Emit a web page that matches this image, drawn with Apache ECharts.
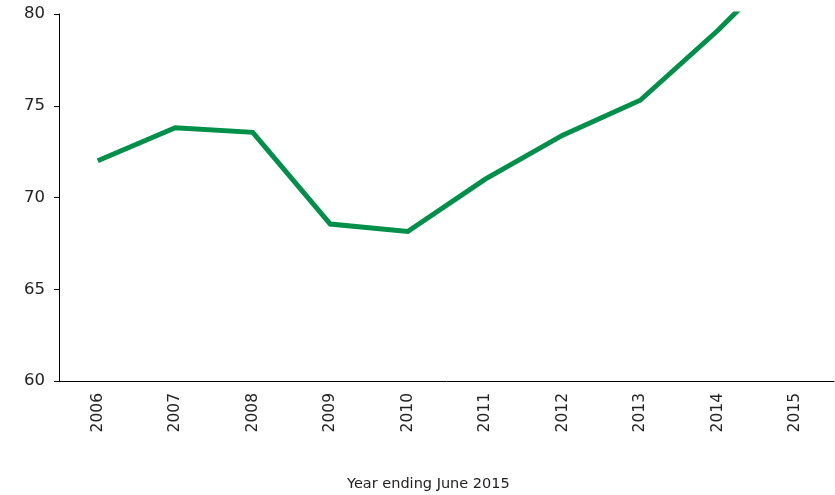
<!DOCTYPE html>
<html>
<head>
<meta charset="utf-8">
<script src="https://cdn.jsdelivr.net/npm/echarts@6/dist/echarts.min.js"></script>
<style>html,body{margin:0;padding:0;background:#fff}#c{width:835px;height:495px}</style>
</head>
<body>
<div id="c"></div>
<script>
const categories = ['2006','2007','2008','2009','2010','2011','2012','2013','2014','2015'];
const values = [72.0, 73.8, 73.55, 68.55, 68.15, 71.0, 73.4, 75.3, 79.1, 83.3];
const yTicks = [60, 65, 70, 75, 80];
const xTitle = 'Year ending June 2015';

const chart = echarts.init(document.getElementById('c'));
chart.setOption({
  animation: false,
  grid: { left: 59, right: 1, top: 14, bottom: 114, containLabel: false },
  xAxis: {
    type: 'category',
    data: categories,
    boundaryGap: true,
    axisLine: { lineStyle: { color: '#000', width: 1 } },
    axisTick: { length: 5, lineStyle: { color: '#000' }, alignWithLabel: false },
    axisLabel: { rotate: 90, color: '#222', fontSize: 15.5, fontFamily: 'DejaVu Sans', margin: 12 }
  },
  yAxis: {
    type: 'value',
    min: yTicks[0], max: yTicks[yTicks.length - 1], interval: 5,
    splitLine: { show: false },
    axisLine: { show: true, lineStyle: { color: '#000', width: 1 } },
    axisTick: { show: true, length: 5, lineStyle: { color: '#000' } },
    axisLabel: { color: '#222', fontSize: 16.5, fontFamily: 'DejaVu Sans', margin: 14 }
  },
  graphic: [{
    type: 'text', left: 347, top: 477,
    style: { text: xTitle, fill: '#222', fontSize: 14.5, fontFamily: 'DejaVu Sans' }
  }],
  series: [{
    type: 'line',
    data: values,
    symbol: 'none',
    clip: true,
    lineStyle: { color: '#00904a', width: 5, join: 'miter' }
  }]
});
</script>
</body>
</html>
